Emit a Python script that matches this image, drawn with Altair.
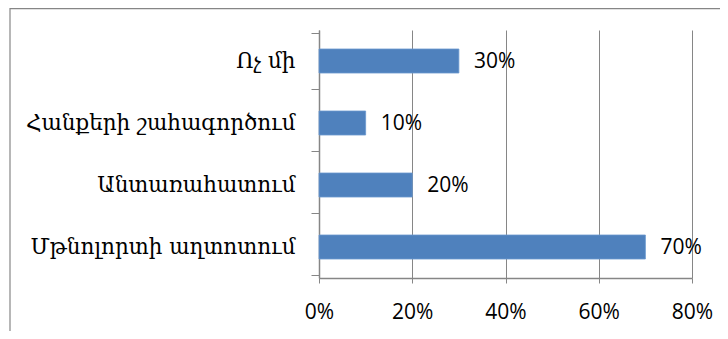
import altair as alt
import pandas as pd

categories = ["Ոչ մի", "Հանքերի շահագործում", "Անտառահատում", "Մթնոլորտի աղտոտում"]
values = [0.30, 0.10, 0.20, 0.70]
tick_values = [0.0, 0.2, 0.4, 0.6, 0.8]

df = pd.DataFrame({"category": categories, "value": values})

GRID = "#868686"

base = alt.Chart(df)

x_enc = alt.X(
    "value:Q",
    scale=alt.Scale(domain=[0, 0.8], nice=False),
    axis=alt.Axis(
        values=tick_values,
        format=".0%",
        title=None,
        grid=True,
        gridColor=GRID,
        gridWidth=1,
        domainColor=GRID,
        domainWidth=1.5,
        tickColor=GRID,
        tickSize=5,
        labelPadding=18,
        labelFlush=False,
        labelFont="Open Sans",
        labelFontSize=21,
        labelColor="#000000",
        labelBaseline="top",
    ),
)
y_enc = alt.Y(
    "category:N",
    sort=categories,
    axis=alt.Axis(
        title=None,
        grid=False,
        domainColor=GRID,
        domainWidth=1.5,
        tickColor=GRID,
        tickSize=8,
        tickBand="extent",
        labelPadding=16,
        labelFont="DejaVu Serif",
        labelFontSize=21.5,
        labelColor="#000000",
        labelLimit=400,
    ),
)

bars = base.mark_bar(size=24, color="#4F81BD", stroke="#6A98CE", strokeWidth=0.8).encode(
    x=x_enc, y=y_enc
)
labels = base.mark_text(
    align="left", baseline="middle", dx=15, dy=1, font="Open Sans", fontSize=21, color="#000000"
).encode(
    x="value:Q",
    y=alt.Y("category:N", sort=categories),
    text=alt.Text("value:Q", format=".0%"),
)

frame_df = pd.DataFrame({"k": [0]})
frame_left = alt.Chart(frame_df).mark_rule(color=GRID, strokeWidth=1.2).encode(
    x=alt.value(-309), y=alt.value(-22), y2=alt.value(301)
)
frame_top = alt.Chart(frame_df).mark_rule(color=GRID, strokeWidth=1.2).encode(
    x=alt.value(-309), x2=alt.value(401), y=alt.value(-21.4)
)

chart = (
    alt.layer(bars, labels, frame_left, frame_top)
    .properties(
        width=373,
        height=248,
        autosize=alt.AutoSizeParams(type="none"),
        padding={"left": 311, "top": 22, "right": 28, "bottom": 53},
        background="white",
    )
    .configure_view(stroke=None)
)

chart.save("out.html", embed_options={"renderer": "svg", "actions": False})
